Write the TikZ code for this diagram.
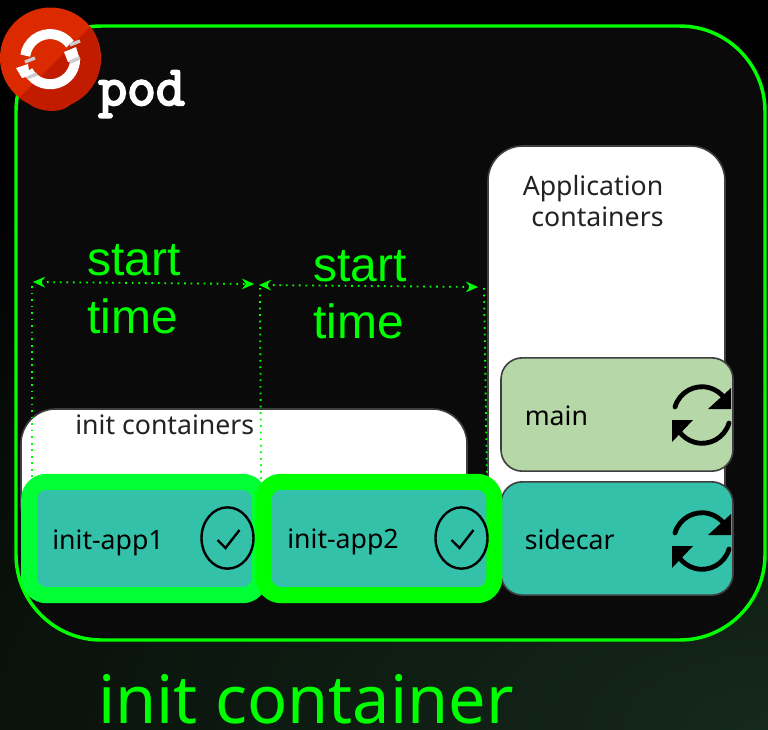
\documentclass[tikz,border=0pt]{standalone}
\usepackage{fontspec}
\setmainfont{Noto Sans}
\newfontfamily\arialish{Liberation Sans}
\newfontfamily\podfont[FakeBold=4]{Latin Modern Mono}
\usetikzlibrary{arrows.meta,shapes.geometric}
\definecolor{podgreen}{HTML}{00FF00}
\definecolor{initgreen}{HTML}{00FF33}
\definecolor{teal}{HTML}{33C2A9}
\definecolor{mainbox}{HTML}{B6D7A8}
\definecolor{edgegray}{HTML}{3F3F3F}
\definecolor{podfill}{HTML}{0A0A0A}
\definecolor{ink}{HTML}{222222}
\definecolor{logored}{HTML}{DB2A00}
\definecolor{logodark}{HTML}{C21C00}
\definecolor{glow}{HTML}{15291A}
\tikzset{
  x=0.75pt,y=-0.75pt,
  whitebox/.style={draw=edgegray,line width=1.2pt,fill=white,rounded corners=26pt},
  ctr/.style={draw=edgegray,line width=1.2pt,rounded corners=16pt,minimum width=174pt,minimum height=85pt,inner sep=0pt},
  initbox/.style={line width=12pt,fill=teal,rounded corners=13pt,minimum width=173pt,minimum height=85pt,inner sep=0pt},
  boxlabel/.style={font=\fontsize{20}{24}\selectfont,text=black,anchor=base west,inner sep=0pt},
  headlabel/.style={font=\fontsize{20}{24}\selectfont,text=ink,inner sep=0pt},
  timelabel/.style={font=\arialish\fontsize{36}{42}\selectfont,text=podgreen,anchor=base west,inner sep=0pt},
  dots/.style={draw=podgreen,line width=1.4pt,dash pattern=on 1.3pt off 3.6pt},
  span/.style={dots,{Stealth[inset=3pt,length=9pt,width=8pt]}-{Stealth[inset=3pt,length=9pt,width=8pt]}},
  checkring/.style={ellipse,draw=black,line width=1.8pt,minimum width=39pt,minimum height=46pt,inner sep=0pt},
  ringarc/.style={line width=7.5pt,white},
  syncarc/.style={line width=3.6pt,black,line cap=round},
}
\newcommand{\syncicon}[2]{%
  \begin{scope}[shift={(#1,#2)}]
    \draw[syncarc] (-27,-8) arc[start angle=196,end angle=325,radius=28];
    \fill[black] (6,-6) -- (29,-6) -- (29,-27) -- cycle;
    \draw[syncarc] (27,8) arc[start angle=16,end angle=145,radius=28];
    \fill[black] (-30,5) -- (-9,5) -- (-30,27) -- cycle;
  \end{scope}}
\begin{document}
\begin{tikzpicture}
\useasboundingbox (0,0) rectangle (768,729);
% background
\fill[black] (0,0) rectangle (768,729);
\begin{scope}
  \clip (0,0) rectangle (768,729);
  \shade[inner color=glow,outer color=black,shading=radial] (768,729) ellipse[x radius=1350,y radius=680];
\end{scope}
% pod
\draw[podgreen,line width=2.6pt,fill=podfill,rounded corners=64pt] (16,26) rectangle (765,640);
\node[inner sep=0pt,anchor=base west,text=white,font=\podfont\fontsize{42}{44}\selectfont] (podlabel) at (98,105) {pod};
% white boxes
\draw[whitebox] (488,146) rectangle (725,560);
\node[headlabel,align=center] (apphead) at (593,201) {Application\\[-0.5pt]\,\,containers};
\draw[whitebox] (21,409) rectangle (467,540);
\node[headlabel,anchor=base west] (inithead) at (75,434) {init containers};
% dotted guides
\coordinate (a0) at (33,282); \coordinate (a1) at (254,284);
\coordinate (b0) at (259,285); \coordinate (b1) at (478,287);
\coordinate (v0t) at (32,286); \coordinate (v0b) at (32,480);
\coordinate (v1t) at (260,288); \coordinate (v1b) at (261,480);
\coordinate (v2t) at (484,288); \coordinate (v2b) at (487,480);
\draw[dots] (v0t) -- (v0b);
\draw[dots] (v1t) -- (v1b);
\draw[dots] (v2t) -- (v2b);
\draw[span] (a0) -- (a1);
\draw[span] (b0) -- (b1);
\node[timelabel] (s1) at (87,275) {start};
\node[timelabel] (t1) at (87,333) {time};
\node[timelabel] (s2) at (313,281) {start};
\node[timelabel] (t2) at (313,338) {time};
% app containers
\node[ctr,fill=mainbox] (main) at (617,414.5) {};
\node[ctr,fill=teal] (sidecar) at (617,538.5) {};
\node[boxlabel] (mainl) at (524.5,425) {main};
\node[boxlabel] (sidel) at (524.5,549) {sidecar};
\syncicon{702}{415}
\syncicon{702}{541}
% init containers
\node[initbox,draw=initgreen] (app1) at (144.5,538.5) {};
\node[initbox,draw=podgreen] (app2) at (379,538.5) {};
\node[boxlabel] (app1l) at (52,549) {init-app1};
\node[boxlabel] (app2l) at (287,548) {init-app2};
\node[checkring] (c1) at (227.5,538) {};
\node[checkring] (c2) at (461.5,538) {};
\draw[line width=1.8pt] ([shift={(-10,2)}]c1.center) -- ([shift={(-2,10)}]c1.center) -- ([shift={(12,-8)}]c1.center);
\draw[line width=1.8pt] ([shift={(-10,2)}]c2.center) -- ([shift={(-2,10)}]c2.center) -- ([shift={(12,-8)}]c2.center);
% title
\node[inner sep=0pt,anchor=base west,text=podgreen,font=\fontsize{50}{56}\selectfont] (title) at (98,723) {init container};
% logo
\fill[logored] (50.5,58) circle[radius=50.5];
\begin{scope}
  \clip (50.5,58) circle[radius=50.5];
  \fill[logodark] (95,22) -- (5,112) -- (110,120) -- cycle;
\end{scope}
\fill[logodark] (28,103) .. controls (38,112) and (62,115) .. (72,103) -- cycle;
\draw[ringarc] (70,44) arc[start angle=-37,end angle=-172,radius=25];
\draw[ringarc] (28,71) arc[start angle=152,end angle=0,radius=25];
\fill[white] (16,68) -- (28,64) -- (30,76) -- (22,78) -- cycle;
\fill[white] (64,52) -- (76,47) -- (80,60) -- (68,62) -- cycle;
\draw[line width=2.5pt,black!20] (25,62) -- (35,58);
\draw[line width=2.5pt,black!20] (27,78) -- (37,74);
\draw[line width=2.5pt,black!20] (70,45) -- (80,41);
\draw[line width=2.5pt,black!20] (70,62) -- (80,58);
\end{tikzpicture}
\end{document}
